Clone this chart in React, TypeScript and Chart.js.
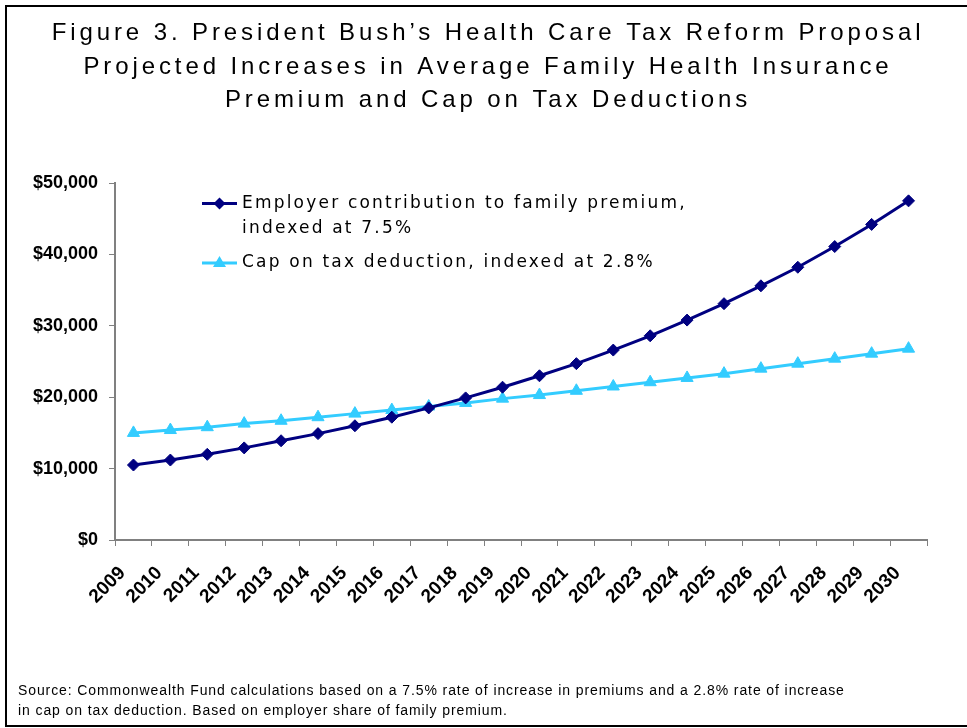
import React, { useEffect, useRef } from "react";
import { Chart, registerables } from "chart.js";

Chart.register(...registerables);

const YEARS = [
  "2009", "2010", "2011", "2012", "2013", "2014", "2015", "2016", "2017", "2018", "2019",
  "2020", "2021", "2022", "2023", "2024", "2025", "2026", "2027", "2028", "2029", "2030",
];

const EMPLOYER = [
  10500, 11200, 12000, 12900, 13900, 14900, 16000, 17200, 18500, 19900, 21400,
  23000, 24700, 26600, 28600, 30800, 33100, 35600, 38200, 41100, 44200, 47500,
];

const CAP = [
  15000, 15400, 15800, 16300, 16700, 17200, 17700, 18200, 18700, 19200, 19800,
  20300, 20900, 21500, 22100, 22700, 23300, 24000, 24700, 25400, 26100, 26800,
];

const TITLE_LINES = [
  "Figure 3. President Bush\u2019s Health Care Tax Reform Proposal",
  "Projected Increases in Average Family Health Insurance",
  "Premium and Cap on Tax Deductions",
];

const SOURCE_LINES = [
  "Source: Commonwealth Fund calculations based on a 7.5% rate of increase in premiums and a 2.8% rate of increase",
  "in cap on tax deduction. Based on employer share of family premium.",
];

const LEGEND_LINES = [
  ["Employer contribution to family premium,", "indexed at 7.5%"],
  ["Cap on tax deduction, indexed at 2.8%"],
];

const Y_MAX = 50000;
const Y_STEP = 10000;

const NAVY = "#000080";
const SKY = "#33CCFF";

function spacedText(ctx: any, text: string, x: number, y: number, spacing: number) {
  ctx.letterSpacing = spacing + "px";
  ctx.fillText(text, x, y);
  ctx.letterSpacing = "0px";
}

const textPlugin = {
  id: "figureText",
  afterDraw(chart: any) {
    const { ctx, chartArea, width, height } = chart;
    ctx.save();
    // title
    ctx.fillStyle = "#000";
    ctx.font = "24px 'Liberation Sans', Arial";
    ctx.textAlign = "center";
    ctx.textBaseline = "middle";
    TITLE_LINES.forEach((t, i) => spacedText(ctx, t, width / 2 + 1, 26.5 + i * 33.5, 3.9));

    // source note
    ctx.font = "14px 'Liberation Sans', Arial";
    ctx.textAlign = "left";
    SOURCE_LINES.forEach((t, i) => spacedText(ctx, t, 11, height - 34 + i * 20, 0.9));

    // inline legend
    const x0 = chartArea.left + 87;
    const x1 = x0 + 35;
    const xm = (x0 + x1) / 2;
    const tx = chartArea.left + 127;
    const rows = [
      { y: chartArea.top + 20.5, lines: LEGEND_LINES[0], color: NAVY, shape: "diamond" },
      { y: chartArea.top + 80, lines: LEGEND_LINES[1], color: SKY, shape: "triangle" },
    ];
    rows.forEach((r) => {
      ctx.strokeStyle = r.color;
      ctx.lineWidth = 3;
      ctx.beginPath();
      ctx.moveTo(x0, r.y);
      ctx.lineTo(x1, r.y);
      ctx.stroke();
      ctx.fillStyle = r.color;
      ctx.beginPath();
      if (r.shape === "diamond") {
        ctx.moveTo(xm, r.y - 6);
        ctx.lineTo(xm + 6, r.y);
        ctx.lineTo(xm, r.y + 6);
        ctx.lineTo(xm - 6, r.y);
      } else {
        ctx.moveTo(xm, r.y - 7);
        ctx.lineTo(xm + 6.5, r.y + 4);
        ctx.lineTo(xm - 6.5, r.y + 4);
      }
      ctx.closePath();
      ctx.fill();
      ctx.fillStyle = "#000";
      ctx.font = "17px 'DejaVu Sans'";
      ctx.textBaseline = "middle";
      ctx.textAlign = "left";
      r.lines.forEach((t, i) => spacedText(ctx, t, tx, r.y + i * 25, 2.2));
    });
    ctx.restore();
  },
};

export default function App() {
  const ref = useRef<HTMLCanvasElement>(null);

  useEffect(() => {
    document.documentElement.style.overflow = "hidden";
    if (!ref.current) return;
    const chart = new Chart(ref.current, {
      type: "line",
      data: {
        labels: YEARS,
        datasets: [
          {
            label: LEGEND_LINES[0].join(" "),
            data: EMPLOYER,
            borderColor: NAVY,
            backgroundColor: NAVY,
            borderWidth: 3,
            pointStyle: "rectRot",
            pointRadius: 6,
            pointBorderWidth: 1,
            tension: 0,
          },
          {
            label: LEGEND_LINES[1].join(" "),
            data: CAP,
            borderColor: SKY,
            backgroundColor: SKY,
            borderWidth: 3,
            pointStyle: "triangle",
            pointRadius: 7,
            pointBorderWidth: 1,
            tension: 0,
          },
        ],
      },
      options: {
        responsive: false,
        animation: false,
        devicePixelRatio: 1,
        layout: { padding: { left: 11, right: 40, top: 176, bottom: 0 } },
        plugins: {
          legend: { display: false },
          tooltip: { enabled: false },
          title: { display: false },
        },
        scales: {
          x: {
            type: "category",
            offset: true,
            grid: {
              offset: true,
              drawOnChartArea: false,
              drawTicks: true,
              tickLength: 6,
              color: "#808080",
            },
            border: { display: true, color: "#808080", width: 2 },
            ticks: {
              color: "#000",
              font: { family: "'Liberation Sans', Arial", size: 19, weight: "bold" },
              minRotation: 45,
              maxRotation: 45,
              autoSkip: false,
              padding: 16,
              labelOffset: -11,
            },
            afterFit: (s: any) => {
              s.height = 185;
            },
          },
          y: {
            min: 0,
            max: Y_MAX,
            grid: {
              drawOnChartArea: false,
              drawTicks: true,
              tickLength: 6,
              color: "#808080",
            },
            border: { display: true, color: "#808080", width: 2 },
            ticks: {
              stepSize: Y_STEP,
              color: "#000",
              font: { family: "'Liberation Sans', Arial", size: 18, weight: "bold" },
              padding: 11,
              callback: (v: any) => "$" + Number(v).toLocaleString("en-US"),
            },
            afterFit: (s: any) => {
              s.width = 97;
            },
          },
        },
      },
      plugins: [textPlugin],
    });
    return () => chart.destroy();
  }, []);

  return (
    <div
      style={{
        position: "absolute",
        left: 5,
        top: 5,
        width: 975,
        height: 722,
        borderLeft: "2px solid #000",
        borderTop: "2px solid #000",
        borderBottom: "2px solid #000",
        boxSizing: "border-box",
        background: "#fff",
      }}
    >
      <canvas ref={ref} width={960} height={718} style={{ display: "block" }} />
    </div>
  );
}
